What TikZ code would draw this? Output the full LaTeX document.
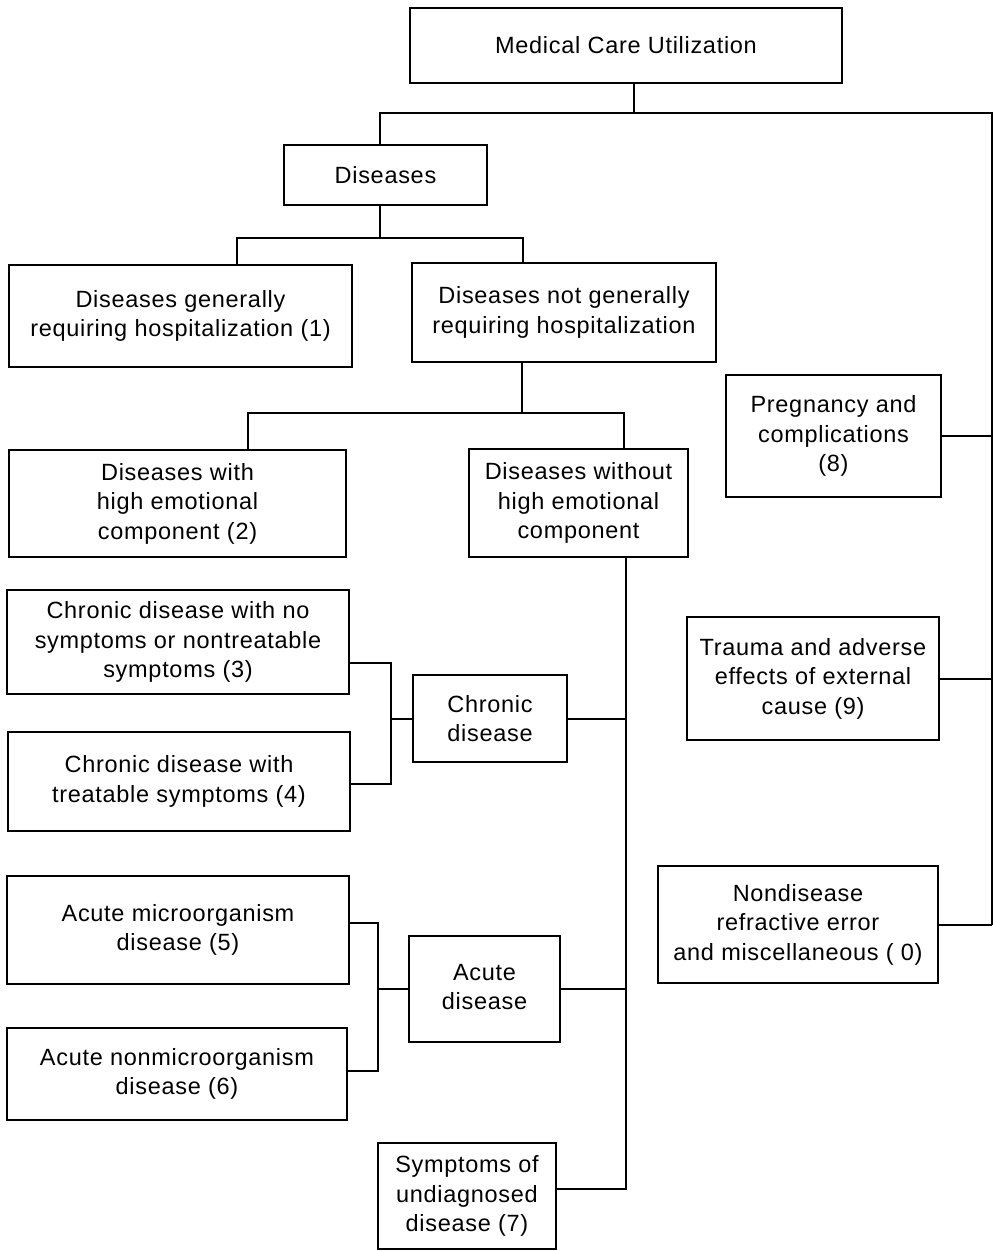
\documentclass[tikz,border=0pt]{standalone}
\usepackage{fontspec}
\setmainfont{Liberation Sans}[LetterSpace=3]
\begin{document}
\begin{tikzpicture}[x=1pt,y=-1pt,line width=2pt,
  box/.style={draw,line width=2pt,inner sep=0pt,align=center,font=\fontsize{23.5}{29.5}\selectfont},
  conn/.style={line width=2pt}]
\useasboundingbox (0,0) rectangle (993,1251);
% boxes
\node[box,minimum width=432pt,minimum height=75pt] (med) at (626,45.5) {Medical Care Utilization};
\node[box,minimum width=203pt,minimum height=60pt] (dis) at (385.5,175) {Diseases};
\node[box,minimum width=343pt,minimum height=102pt] (b1) at (180.5,316) {Diseases generally\\requiring hospitalization (1)};
\node[box,minimum width=304pt,minimum height=99pt] (ng) at (564,312.5) {Diseases not generally\\requiring hospitalization};
\node[box,minimum width=215pt,minimum height=122pt] (preg) at (833.5,436) {Pregnancy and\\complications\\(8)};
\node[box,minimum width=337pt,minimum height=107pt] (b2) at (177.5,503.5) {Diseases with\\high emotional\\component (2)};
\node[box,minimum width=219pt,minimum height=108pt] (wo) at (578.5,503) {Diseases without\\high emotional\\component};
\node[box,minimum width=342pt,minimum height=104pt] (b3) at (178,642) {Chronic disease with no\\symptoms or nontreatable\\symptoms (3)};
\node[box,minimum width=154pt,minimum height=87pt] (chr) at (490,718.5) {Chronic\\disease};
\node[box,minimum width=342pt,minimum height=99pt] (b4) at (179,781.5) {Chronic disease with\\treatable symptoms (4)};
\node[box,minimum width=252pt,minimum height=123pt] (tra) at (813,678.5) {Trauma and adverse\\effects of external\\cause (9)};
\node[box,minimum width=342pt,minimum height=108pt] (b5) at (178,930) {Acute microorganism\\disease (5)};
\node[box,minimum width=280pt,minimum height=117pt] (non) at (798,924.5) {Nondisease\\refractive error\\and miscellaneous (\ 0)};
\node[box,minimum width=151pt,minimum height=106pt] (acu) at (484.5,989) {\raisebox{6pt}{\begin{tabular}{@{}c@{}}Acute\\[-0.5pt]disease\end{tabular}}};
\node[box,minimum width=340pt,minimum height=92pt] (b6) at (177,1074) {Acute nonmicroorganism\\disease (6)};
\node[box,minimum width=178pt,minimum height=106pt] (b7) at (467,1196) {Symptoms of\\undiagnosed\\disease (7)};
% junction coordinates
\coordinate (t1) at (634,113);
\coordinate (tL) at (380,113);
\coordinate (tR) at (992,113);
\coordinate (d1) at (380,238);
\coordinate (dL) at (237,238);
\coordinate (dR) at (523,238);
\coordinate (n1) at (522,413);
\coordinate (nL) at (248,413);
\coordinate (nR) at (624,413);
\coordinate (w1) at (626,1189);
\coordinate (c1) at (391,663);
\coordinate (c2) at (391,784);
\coordinate (a1) at (378,923);
\coordinate (a2) at (378,1071);
% connectors
\draw[conn] (t1 |- med.south) -- (t1);
\draw[conn] (tL |- dis.north) -- (tL) -- (tR) -- (tR |- non.east);
\draw[conn] (preg.east) -- (preg.east -| tR);
\draw[conn] (tra.east) -- (tra.east -| tR);
\draw[conn] (non.east) -- (non.east -| tR);
\draw[conn] (d1 |- dis.south) -- (d1);
\draw[conn] (dL |- b1.north) -- (dL) -- (dR) -- (dR |- ng.north);
\draw[conn] (n1 |- ng.south) -- (n1);
\draw[conn] (nL |- b2.north) -- (nL) -- (nR) -- (nR |- wo.north);
\draw[conn] (w1 |- wo.south) -- (w1) -- (w1 -| b7.east);
\draw[conn] (chr.east) -- (chr.east -| w1);
\draw[conn] (acu.east) -- (acu.east -| w1);
\draw[conn] (c1 -| b3.east) -- (c1) -- (c2) -- (c2 -| b4.east);
\draw[conn] (chr.west) -- (chr.west -| c1);
\draw[conn] (a1 -| b5.east) -- (a1) -- (a2) -- (a2 -| b6.east);
\draw[conn] (acu.west) -- (acu.west -| a1);
\end{tikzpicture}
\end{document}
